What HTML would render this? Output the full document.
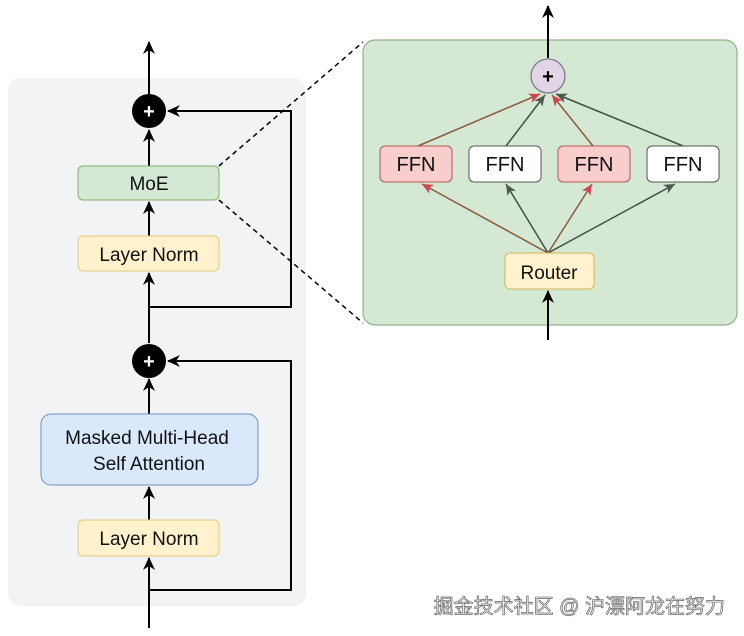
<!DOCTYPE html>
<html><head><meta charset="utf-8"><style>
html,body{margin:0;padding:0;background:#fff;width:744px;height:636px;overflow:hidden}
svg{display:block}
text{font-family:"Liberation Sans",Arial,sans-serif}
</style></head><body>
<svg width="744" height="636" viewBox="0 0 744 636" xmlns="http://www.w3.org/2000/svg">
<defs>
<marker id="ab" markerWidth="14" markerHeight="14" refX="12" refY="6" orient="auto" markerUnits="userSpaceOnUse"><path d="M0,0 L13,6 L0,12 L4,6 Z" fill="#000"/></marker>
<marker id="ar" markerWidth="12" markerHeight="12" refX="11" refY="5" orient="auto" markerUnits="userSpaceOnUse"><path d="M0,0 L11,5 L0,10 L3,5 Z" fill="#d0454f"/></marker>
<marker id="ag" markerWidth="12" markerHeight="12" refX="11" refY="5" orient="auto" markerUnits="userSpaceOnUse"><path d="M0,0 L11,5 L0,10 L3,5 Z" fill="#4a5a4e"/></marker>
</defs>
<rect x="8" y="78" width="298" height="528" rx="12" fill="#f2f3f5"/>
<rect x="363" y="40" width="374" height="285" rx="12" fill="#d5e8d4" stroke="#8fb389" stroke-width="1.2"/>
<line x1="219" y1="166" x2="363" y2="42" stroke="#000" stroke-width="1.5" stroke-dasharray="5,4"/>
<line x1="219" y1="200" x2="363" y2="323" stroke="#000" stroke-width="1.5" stroke-dasharray="5,4"/>
<g stroke="#000" stroke-width="2" fill="none">
<line x1="149" y1="628" x2="149" y2="558" marker-end="url(#ab)"/>
<line x1="149" y1="520" x2="149" y2="487" marker-end="url(#ab)"/>
<line x1="149" y1="414" x2="149" y2="379" marker-end="url(#ab)"/>
<line x1="149" y1="343" x2="149" y2="273" marker-end="url(#ab)"/>
<line x1="149" y1="236" x2="149" y2="202" marker-end="url(#ab)"/>
<line x1="149" y1="166" x2="149" y2="130" marker-end="url(#ab)"/>
<line x1="149" y1="94" x2="149" y2="42" marker-end="url(#ab)"/>
<polyline points="149,590 291,590 291,361 168,361" marker-end="url(#ab)"/>
<polyline points="149,307 291,307 291,111 168,111" marker-end="url(#ab)"/>
</g>
<circle cx="149" cy="111" r="17" fill="#000"/>
<text x="149" y="118" text-anchor="middle" font-size="20" font-weight="bold" fill="#fff">+</text>
<circle cx="149" cy="361" r="17" fill="#000"/>
<text x="149" y="368" text-anchor="middle" font-size="20" font-weight="bold" fill="#fff">+</text>
<rect x="78" y="166" width="141" height="34" rx="5" fill="#d5e8d4" stroke="#82b366"/>
<text x="149" y="190" text-anchor="middle" font-size="19" fill="#111">MoE</text>
<rect x="78" y="236" width="141" height="35" rx="5" fill="#fff2cc" stroke="#e6c97a"/>
<text x="149" y="261" text-anchor="middle" font-size="19" fill="#111">Layer Norm</text>
<rect x="41" y="414" width="217" height="71" rx="10" fill="#dae8fc" stroke="#6c8ebf"/>
<text x="147" y="444" text-anchor="middle" font-size="19" fill="#111">Masked Multi-Head</text>
<text x="149" y="470" text-anchor="middle" font-size="19" fill="#111">Self Attention</text>
<rect x="78" y="520" width="141" height="36" rx="5" fill="#fff2cc" stroke="#e6c97a"/>
<text x="149" y="545" text-anchor="middle" font-size="19" fill="#111">Layer Norm</text>
<line x1="548" y1="58" x2="548" y2="6" stroke="#000" stroke-width="2" marker-end="url(#ab)"/>
<line x1="548" y1="340" x2="548" y2="291" stroke="#000" stroke-width="2" marker-end="url(#ab)"/>
<g stroke-width="1.5">
<line x1="548" y1="253" x2="422" y2="184" stroke="#8a5a3a" marker-end="url(#ar)"/>
<line x1="548" y1="253" x2="506" y2="184" stroke="#3f4f44" marker-end="url(#ag)"/>
<line x1="548" y1="253" x2="592" y2="184" stroke="#8a5a3a" marker-end="url(#ar)"/>
<line x1="548" y1="253" x2="675" y2="184" stroke="#3f4f44" marker-end="url(#ag)"/>
<line x1="418" y1="146" x2="540" y2="94" stroke="#8a5a3a" marker-end="url(#ar)"/>
<line x1="506" y1="146" x2="545" y2="95" stroke="#3f4f44" marker-end="url(#ag)"/>
<line x1="593" y1="146" x2="552" y2="95" stroke="#8a5a3a" marker-end="url(#ar)"/>
<line x1="683" y1="146" x2="556" y2="94" stroke="#3f4f44" marker-end="url(#ag)"/>
</g>
<circle cx="548" cy="76" r="17" fill="#e1d5e7" stroke="#7a7a88" stroke-width="1.3"/>
<text x="548" y="83" text-anchor="middle" font-size="20" font-weight="bold" fill="#000">+</text>
<rect x="380" y="146" width="72" height="36" rx="5" fill="#f8cecc" stroke="#b85450"/>
<rect x="469" y="146" width="72" height="36" rx="5" fill="#fff" stroke="#555"/>
<rect x="558" y="146" width="72" height="36" rx="5" fill="#f8cecc" stroke="#b85450"/>
<rect x="647" y="146" width="72" height="36" rx="5" fill="#fff" stroke="#555"/>
<g font-size="20" fill="#111" text-anchor="middle">
<text x="416" y="171">FFN</text><text x="505" y="171">FFN</text><text x="594" y="171">FFN</text><text x="683" y="171">FFN</text>
</g>
<rect x="505" y="253" width="89" height="36" rx="5" fill="#fff2cc" stroke="#d6b656"/>
<text x="549" y="279" text-anchor="middle" font-size="19" fill="#111">Router</text>
<text x="725" y="613" text-anchor="end" font-size="20" fill="#f6f6f6" stroke="#666" stroke-width="0.7" style="font-family:'Liberation Sans','Noto Sans CJK SC',sans-serif">掘金技术社区 @ 沪漂阿龙在努力</text>
</svg>
</body></html>
